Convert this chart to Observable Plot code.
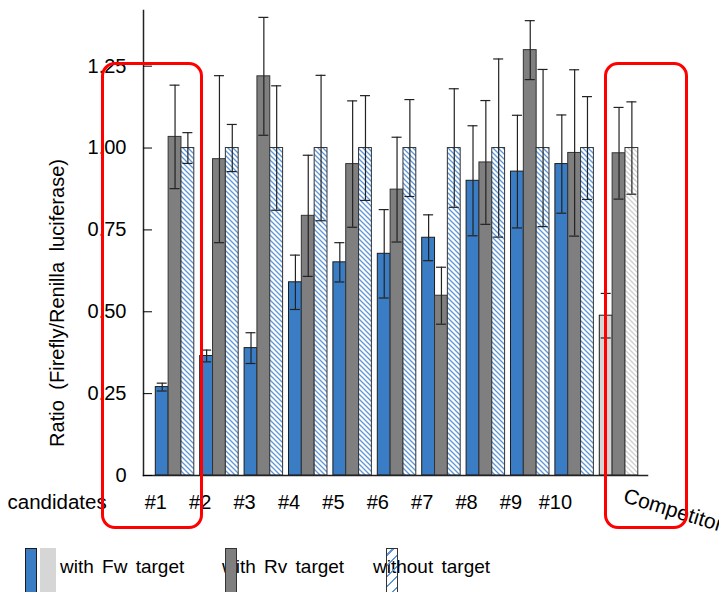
<!DOCTYPE html>
<html><head><meta charset="utf-8">
<script src="https://cdn.jsdelivr.net/npm/d3@7"></script>
<script src="https://cdn.jsdelivr.net/npm/@observablehq/plot@0.6"></script>
<style>
html,body{margin:0;padding:0;background:#fff;}
#wrap{position:relative;width:719px;height:592px;overflow:hidden;font-family:"Liberation Sans",Arial,sans-serif;}
#wrap svg{position:absolute;left:0;top:0;overflow:visible;}
#wrap svg text{word-spacing:5px;}
.sw{position:absolute;top:548px;height:50px;box-sizing:border-box;}
.lt{position:absolute;top:557px;font-size:19px;line-height:19px;word-spacing:3px;color:#000;white-space:nowrap;}
.box{position:absolute;border:3px solid #ff0000;border-radius:14px;box-sizing:border-box;}
</style></head><body><div id="wrap"></div>
<script>
// ---- data ----
const groups = ["#1","#2","#3","#4","#5","#6","#7","#8","#9","#10","Competitor"];
const seriesNames = ["with Fw target","with Rv target","without target"];
const fwValues = [0.270,0.365,0.389,0.590,0.651,0.677,0.726,0.900,0.928,0.951,0.488];
const fwErrors = [0.012,0.018,0.047,0.083,0.060,0.135,0.070,0.168,0.172,0.150,0.068];
const rvValues = [1.034,0.966,1.219,0.793,0.951,0.873,0.549,0.956,1.299,0.985,0.984];
const rvErrors = [0.158,0.255,0.180,0.185,0.193,0.160,0.087,0.189,0.090,0.254,0.140];
const woValues = [1.000,1.000,1.000,1.000,1.000,1.000,1.000,1.000,1.000,1.000,1.000];
const woErrors = [0.047,0.072,0.190,0.222,0.160,0.148,0.181,0.272,0.240,0.157,0.141];
const yTicks = [0,0.25,0.5,0.75,1,1.25];
const yLabel = "Ratio (Firefly/Renilla luciferase)";
const xLabel = "candidates";

// ---- styling / layout ----
const W = 719, H = 530;
const mL = 143, mR = 72, mT = 10, mB = 55;
const pOuter = 0.1757;
const step = (W - mL - mR) / (groups.length + 2 * pOuter);
const inner0 = 4.5, barW = 12.83, capW = 10;
const blue = "#3b7dc4", dark = "#7f7f7f", light = "#d6d6d6";

const valuesBy = [fwValues, rvValues, woValues];
const errorsBy = [fwErrors, rvErrors, woErrors];
function fillFor(i, g) {
  const comp = g === "Competitor";
  if (i === 0) return comp ? light : blue;
  if (i === 1) return dark;
  return comp ? "url(#hatchGray)" : "url(#hatchBlue)";
}
const rows = [];
seriesNames.forEach((s, i) => groups.forEach((g, j) => rows.push({
  group: g, s: i, value: valuesBy[i][j], error: errorsBy[i][j], fill: fillFor(i, g)
})));

function defsMark() {
  const defs = d3.create("svg:defs");
  function hatch(id, color) {
    const p = defs.append("pattern").attr("id", id).attr("patternUnits", "userSpaceOnUse")
      .attr("width", 5).attr("height", 5);
    p.append("rect").attr("width", 5).attr("height", 5).attr("fill", "#fff");
    p.append("path").attr("d", "M-1,-1L6,6M-1,4L1,6M4,-1L6,1")
      .attr("stroke", color).attr("stroke-width", 1.3);
  }
  hatch("hatchBlue", "#5f97d8");
  hatch("hatchGray", "#cfcfcf");
  return defs.node();
}

const marks = [defsMark];
[0, 1, 2].forEach(i => {
  const data = rows.filter(r => r.s === i);
  const left = inner0 + barW * i;
  marks.push(Plot.barY(data, {
    x: "group", y: "value", fill: "fill",
    stroke: i === 0 ? "#1c1c1c" : "#333", strokeWidth: 1,
    insetLeft: left, insetRight: step - left - barW
  }));
});
[0, 1, 2].forEach(i => {
  const data = rows.filter(r => r.s === i);
  const center = inner0 + barW * i + barW / 2;
  marks.push(Plot.ruleX(data, {
    x: "group", y1: d => d.value - d.error, y2: d => d.value + d.error,
    dx: center - step / 2, stroke: "#222", strokeWidth: 1.2
  }));
  for (const sign of [1, -1]) {
    marks.push(Plot.tickY(data, {
      x: "group", y: d => d.value + sign * d.error,
      insetLeft: center - capW / 2, insetRight: step - center - capW / 2,
      stroke: "#222", strokeWidth: 1.2
    }));
  }
});
marks.push(
  Plot.frame({anchor: "left", stroke: "#222", strokeWidth: 1.5}),
  Plot.frame({anchor: "bottom", stroke: "#222", strokeWidth: 1.5}),
  Plot.axisY({ticks: yTicks, tickSize: -9, tickPadding: 26, label: null,
    tickFormat: d => d === 0 ? "0" : d.toFixed(2), fontSize: 20, color: "#000"}),
  Plot.axisX({ticks: groups.slice(0, 10), tickSize: 0, tickPadding: 19, label: null,
    dx: inner0 - step / 2, fontSize: 20, color: "#000"}),
  Plot.axisX({ticks: groups.slice(10), tickSize: 0, tickPadding: 12, label: null,
    dx: 9, rotate: 17, textAnchor: "start", fontSize: 21, color: "#000"}),
  Plot.text([xLabel], {text: d => d, frameAnchor: "bottom-left", dx: -136, dy: 19,
    lineAnchor: "top", textAnchor: "start", fontSize: 20.5, fill: "#000"}),
  Plot.text([yLabel], {text: d => d, frameAnchor: "left", rotate: -90, dx: -86, dy: 60,
    textAnchor: "middle", lineAnchor: "middle", fontSize: 20, fill: "#000"})
);

const chart = Plot.plot({
  width: W, height: H,
  marginLeft: mL, marginRight: mR, marginTop: mT, marginBottom: mB,
  style: {fontFamily: '"Liberation Sans", Arial, sans-serif', background: "transparent"},
  x: {domain: groups, paddingInner: 0, paddingOuter: pOuter, round: false},
  y: {domain: [0, 1.42]},
  color: {type: "identity"},
  marks
});
const wrap = document.getElementById("wrap");
wrap.appendChild(chart);

// ---- legend (HTML, below the svg) ----
function el(cls, style) {
  const e = document.createElement("div");
  e.className = cls; Object.assign(e.style, style);
  wrap.appendChild(e);
  return e;
}
el("sw", {left: "25px", width: "12px", background: blue, border: "1.5px solid #1c1c1c"});
el("sw", {left: "40px", width: "16px", background: light});
el("lt", {left: "60px"}).textContent = seriesNames[0];
el("lt", {left: "222px"}).textContent = seriesNames[1];
el("sw", {left: "225px", width: "12px", background: dark, border: "1.5px solid #333"});
el("lt", {left: "373px"}).textContent = seriesNames[2];
el("sw", {left: "386px", width: "12px", border: "1.5px solid #333",
  background: "repeating-linear-gradient(-45deg, transparent 0px, transparent 6px, #5f97d8 6px, #5f97d8 7.5px)"});

// ---- red annotation boxes ----
el("box", {left: "100.5px", top: "61.5px", width: "102px", height: "467px"});
el("box", {left: "603.5px", top: "61.5px", width: "84px", height: "467px"});
</script></body></html>
